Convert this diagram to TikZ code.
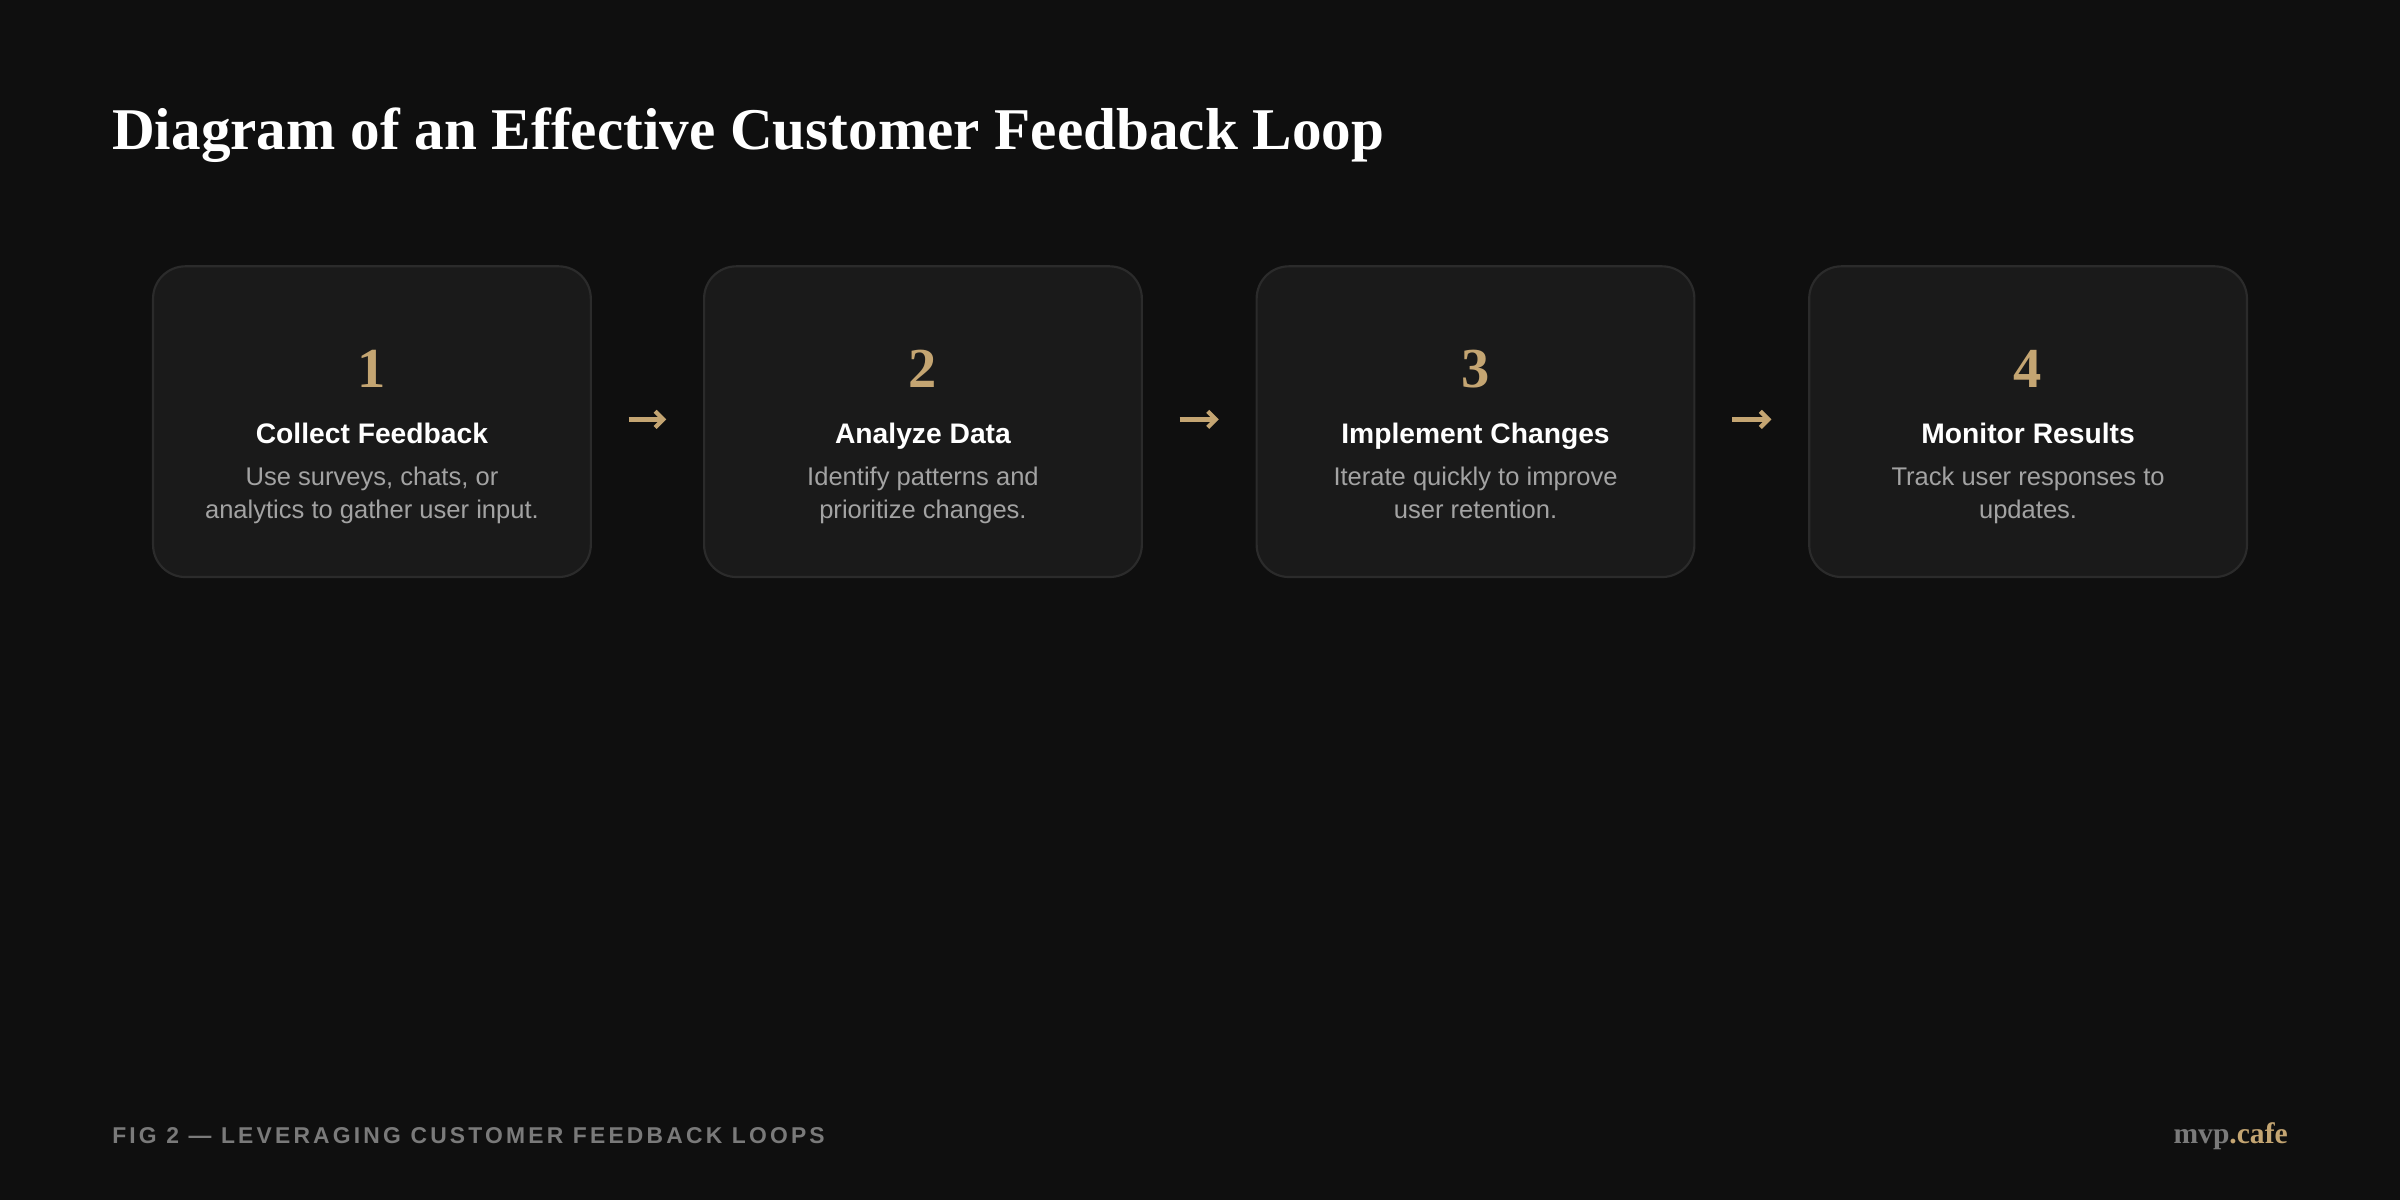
\documentclass[tikz,border=0pt]{standalone}
\usepackage{fontspec}
\setmainfont{Liberation Sans}
\newfontfamily\titlefont{Liberation Serif}
\usetikzlibrary{positioning,arrows.meta}
\definecolor{bg}{HTML}{0F0F0F}
\definecolor{card}{HTML}{1A1A1A}
\definecolor{cardline}{HTML}{2B2B2B}
\definecolor{gold}{HTML}{C4A572}
\definecolor{desc}{HTML}{A3A3A3}
\definecolor{foot}{HTML}{7A7A7A}
\tikzset{
  card/.style={draw=cardline, line width=0.8pt, fill=card, rounded corners=12pt,
    minimum width=5.72cm, minimum height=4.06cm},
  num/.style={text=gold, font=\titlefont\bfseries\fontsize{21}{24}\selectfont},
  head/.style={text=white, font=\bfseries\fontsize{10.5}{12}\selectfont,
    text height=8pt, text depth=2.5pt},
  sub/.style={text=desc, font=\fontsize{9.5}{12.5}\selectfont, align=center},
  flow/.style={gold, line width=1.6pt, -{Straight Barb[length=3pt,width=6pt]}}
}
\begin{document}
\begin{tikzpicture}
\fill[bg] (0,0) rectangle (31.36,15.68);
\useasboundingbox (0,0) rectangle (31.36,15.68);

\node[anchor=base west, inner sep=0pt, text=white, font=\titlefont\bfseries\fontsize{22}{26}\selectfont] (title) at (1.46,13.72) {Diagram of an Effective Customer Feedback Loop};

\node[card] (c1) at (4.86,10.17) {};
\node[card] (c2) at (12.06,10.17) {};
\node[card] (c3) at (19.28,10.17) {};
\node[card] (c4) at (26.50,10.17) {};

\node[num] (n1) at (4.86,10.86) {1};
\node[num] (n2) at (12.06,10.86) {2};
\node[num] (n3) at (19.28,10.86) {3};
\node[num] (n4) at (26.50,10.86) {4};

\node[head] (h1) at (4.86,9.98) {Collect Feedback};
\node[head] (h2) at (12.06,9.98) {Analyze Data};
\node[head] (h3) at (19.28,9.98) {Implement Changes};
\node[head] (h4) at (26.50,9.98) {Monitor Results};

\node[sub, below=-1pt of h1] (s1) {Use surveys, chats, or\\analytics to gather user input.};
\node[sub, below=-1pt of h2] (s2) {Identify patterns and\\prioritize changes.};
\node[sub, below=-1pt of h3] (s3) {Iterate quickly to improve\\user retention.};
\node[sub, below=-1pt of h4] (s4) {Track user responses to\\updates.};

\draw[flow] ([xshift=0.48cm,yshift=0.03cm]c1.east) -- ([xshift=-0.48cm,yshift=0.03cm]c2.west);
\draw[flow] ([xshift=0.48cm,yshift=0.03cm]c2.east) -- ([xshift=-0.48cm,yshift=0.03cm]c3.west);
\draw[flow] ([xshift=0.48cm,yshift=0.03cm]c3.east) -- ([xshift=-0.48cm,yshift=0.03cm]c4.west);

\node[anchor=base west, inner sep=0pt, text=foot, font=\bfseries\fontsize{8.5}{10}\selectfont\addfontfeature{LetterSpace=14}] (fig) at (1.46,0.74) {FIG 2 — LEVERAGING CUSTOMER FEEDBACK LOOPS};
\node[anchor=base east, inner sep=0pt, font=\titlefont\bfseries\fontsize{11}{13}\selectfont] (brand) at (29.9,0.74) {\textcolor{foot}{mvp}\textcolor{gold}{.cafe}};
\end{tikzpicture}
\end{document}
